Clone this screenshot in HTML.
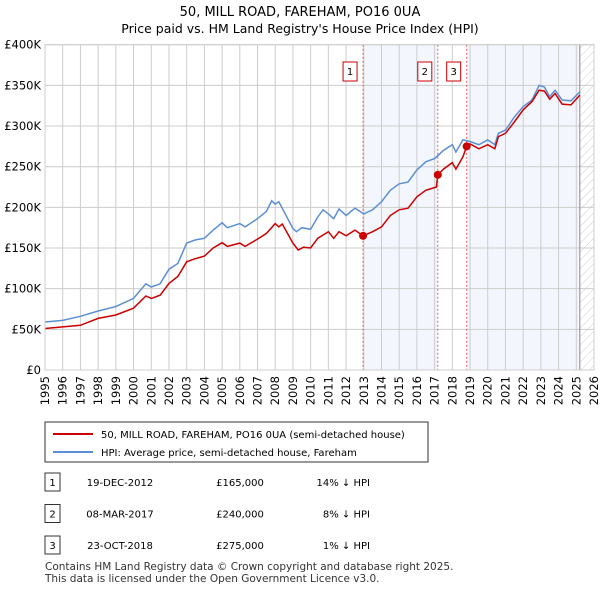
<!DOCTYPE html>
<html><head><meta charset="utf-8"><style>
body{margin:0;background:#fff;font-family:"Liberation Sans",sans-serif}
svg text{font-family:"DejaVu Sans","Liberation Sans",sans-serif}
</style></head><body>
<svg id="c" width="600" height="590" xmlns="http://www.w3.org/2000/svg">
<defs><pattern id="h" width="6" height="6" patternUnits="userSpaceOnUse" patternTransform="rotate(45)"><line x1="0" y1="0" x2="0" y2="6" stroke="#ccc" stroke-width="1"/></pattern></defs>
<text x="300" y="16" text-anchor="middle" font-size="13">50, MILL ROAD, FAREHAM, PO16 0UA</text>
<text x="300" y="33" text-anchor="middle" font-size="12.5">Price paid vs. HM Land Registry's House Price Index (HPI)</text>
<g id="plot"></g>
<g>
<rect x="45" y="422" width="383" height="40" fill="#fff" stroke="#333" stroke-width="1"/>
<line x1="53" y1="434" x2="93" y2="434" stroke="#cc0000" stroke-width="2"/>
<text x="101" y="438" font-size="10">50, MILL ROAD, FAREHAM, PO16 0UA (semi-detached house)</text>
<line x1="53" y1="452" x2="93" y2="452" stroke="#5b8fd4" stroke-width="2"/>
<text x="101" y="456" font-size="10">HPI: Average price, semi-detached house, Fareham</text>
</g>
<g id="tbl" font-size="10"></g>
<text x="45" y="570" font-size="10.5" fill="#333">Contains HM Land Registry data © Crown copyright and database right 2025.</text>
<text x="45" y="582" font-size="10.5" fill="#333">This data is licensed under the Open Government Licence v3.0.</text>
</svg>
<script>
const hpiYears=[1995,1996,1997,1998,1999,2000,2000.7,2001,2001.5,2002,2002.5,2003,2003.5,2004,2004.5,2005,2005.3,2006,2006.3,2007,2007.5,2007.8,2008,2008.2,2009,2009.2,2009.5,2010,2010.4,2010.7,2011,2011.3,2011.6,2012,2012.5,2013,2013.5,2014,2014.5,2015,2015.5,2016,2016.5,2017,2017.5,2018,2018.2,2018.6,2019,2019.5,2020,2020.4,2020.6,2021,2021.5,2022,2022.5,2022.9,2023.2,2023.5,2023.8,2024.2,2024.7,2025.2];
const hpiValues=[59,61,66,72.5,78,88,106,102,106,124,131,156,160,162,172,181,175,180,176,186,195,208,204,207,174,170,175,173,188,197,192,186,198,190,199,192,197,207,221,229,231,246,256,260,270,277,268,283,281,277,283,277,291,295,311,324,332,350,348,336,344,332,331,342];
const priceYears=[1995,1996,1997,1998,1999,2000,2000.7,2001,2001.5,2002,2002.5,2003,2003.5,2004,2004.5,2005,2005.3,2006,2006.3,2007,2007.5,2008,2008.2,2008.4,2009,2009.3,2009.6,2010,2010.4,2011,2011.3,2011.6,2012,2012.5,2012.96,2013.5,2014,2014.5,2015,2015.5,2016,2016.5,2017.1,2017.18,2017.5,2018,2018.2,2018.6,2018.81,2019,2019.5,2020,2020.4,2020.6,2021,2021.5,2022,2022.5,2022.9,2023.2,2023.5,2023.8,2024.2,2024.7,2025.2];
const priceValues=[51,53,55,63.5,67.6,76,91,88,92,106.5,115,133,137,140,150,156.5,152,156,152,161,168,180,176,179.5,156,147.5,151,150,162,170,162,170,165,172,165,170,176,190,197,199,213,221,225,240,247,255,247,262,275,278,272,277,272,287,291,305,320,330,344,343,333,340,327,326,338];
const saleYears=[2012.96,2017.18,2018.81];
const saleValues=[165,240,275];
const saleLabels=["1","2","3"];
const saleDates=["19-DEC-2012","08-MAR-2017","23-OCT-2018"];
const salePrices=["£165,000","£240,000","£275,000"];
const saleDiffs=["14% ↓ HPI","8% ↓ HPI","1% ↓ HPI"];
const yTicks=[0,50,100,150,200,250,300,350,400];
const yTickLabels=["£0","£50K","£100K","£150K","£200K","£250K","£300K","£350K","£400K"];
const xStart=1995,xEnd=2026,dataEnd=2025.2;

const L=45,R=594,T=44.7,B=370;
const X=y=>L+(y-xStart)/(xEnd-xStart)*(R-L);
const Y=v=>B-v/400*(B-T);
const NS="http://www.w3.org/2000/svg";
const g=document.getElementById('plot');
function mk(t,a,p){const e=document.createElementNS(NS,t);for(const k in a)e.setAttribute(k,a[k]);(p||g).appendChild(e);return e;}
// shading
let s=mk('rect',{x:X(saleYears[0]),y:T,width:X(saleYears[1])-X(saleYears[0]),height:B-T,fill:'#eef3fc',opacity:0.7});


s=mk('rect',{x:X(saleYears[2]),y:T,width:X(dataEnd)-X(saleYears[2]),height:B-T,fill:'#eef3fc',opacity:0.7});


s=mk('rect',{x:X(dataEnd),y:T,width:R-X(dataEnd),height:B-T,fill:'url(#h)'});


// grid
for(let yr=xStart;yr<=xEnd;yr++){
 const l=mk('line',{x1:X(yr),x2:X(yr),y1:T,y2:B,stroke:'#ccc','stroke-width':1});
 
 
 const t=mk('text',{x:0,y:0,'font-size':11.5,transform:`translate(${X(yr)+4},${B+6}) rotate(-90)`,'text-anchor':'end'});
 t.textContent=yr;
 
 
}
yTicks.forEach((v,i)=>{
 const l=mk('line',{x1:L,x2:R,y1:Y(v),y2:Y(v),stroke:'#ccc','stroke-width':1});
 
 
 const t=mk('text',{x:L-4,y:Y(v)+4,'font-size':11.5,'text-anchor':'end'});
 t.textContent=yTickLabels[i];
 
 
});
let el=mk('line',{x1:X(dataEnd),x2:X(dataEnd),y1:T,y2:B,stroke:'#888','stroke-width':1});


saleYears.forEach((yr,i)=>{
 const l=mk('line',{x1:X(yr),x2:X(yr),y1:T,y2:B,stroke:'#e06060','stroke-width':1,'stroke-dasharray':'2,2'});
 
 
 const r=mk('rect',{x:X(yr)-20,y:62,width:14,height:19,fill:'#fff',stroke:'#cc0000'});
 
 
 const t=mk('text',{x:X(yr)-13,y:75,'font-size':10,'text-anchor':'middle'});
 t.textContent=saleLabels[i];
 
 
});
function line(xs,vs,col,name){
 const p=mk('polyline',{points:xs.map((x,i)=>X(x).toFixed(1)+','+Y(vs[i]).toFixed(1)).join(' '),fill:'none',stroke:col,'stroke-width':1.5});
 
 
}
line(hpiYears,hpiValues,'#5b8fd4','hpi-line');
line(priceYears,priceValues,'#cc0000','price-paid-line');
saleYears.forEach((yr,i)=>{
 const c=mk('circle',{cx:X(yr),cy:Y(saleValues[i]),r:4,fill:'#cc0000'});
 
 
});
el=mk('rect',{x:L,y:T,width:R-L,height:B-T,fill:'none',stroke:'#ccc'});


const tb=document.getElementById('tbl');
saleYears.forEach((yr,i)=>{
 const y0=473+i*31.5;
 const r=mk('rect',{x:45,y:y0,width:15,height:18,fill:'#fff',stroke:'#333'},tb);
 
 
 const cells=[[saleLabels[i],52.5,'middle'],[saleDates[i],120,'middle'],[salePrices[i],240,'middle'],[saleDiffs[i],370,'end']];
 cells.forEach(c=>{
  const t=mk('text',{x:c[1],y:y0+13,'text-anchor':c[2]},tb);
  t.textContent=c[0];
  
  
 });
});
</script>
</body></html>
